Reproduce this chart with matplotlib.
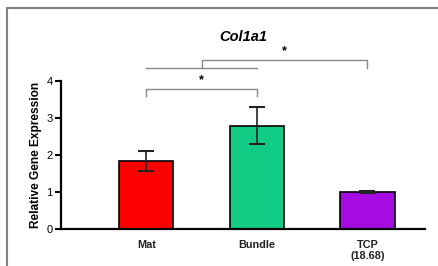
import numpy as np
import matplotlib.pyplot as plt
from matplotlib.lines import Line2D

# data
groups = ["Mat", "Bundle", "TCP\n(18.68)"]
means = [1.84, 2.79, 1.00]
errs = [0.27, 0.50, 0.02]
colors = ["#FF0000", "#12CC86", "#A60CE2"]

plt.rcParams['font.family'] = ['Liberation Sans', 'DejaVu Sans']

fig = plt.figure(figsize=(4.39, 2.66), dpi=100)
ax = fig.add_axes([61/439, 1 - 228.7/266, (425-61)/439, 147.4/266])

x = np.arange(len(groups))
ax.bar(x, means, width=0.49, color=colors, edgecolor="black", linewidth=1.2, zorder=2)
ax.errorbar(x, means, yerr=errs, fmt="none", ecolor="#222222", elinewidth=1.2,
            capsize=6, capthick=1.5, zorder=3)

ax.set_xlim(-0.77, 2.52)
ax.set_ylim(0, 4)
ax.set_yticks([0, 1, 2, 3, 4])
ax.set_xticks(x)
ax.set_xticklabels(groups, fontsize=7.8, fontweight="bold", color="#222222", linespacing=1.2)
ax.tick_params(axis="x", length=0, pad=8)
ax.tick_params(axis="y", length=4, width=1.5, labelsize=8, pad=2)
for s in ["top", "right"]:
    ax.spines[s].set_visible(False)
for s in ["left", "bottom"]:
    ax.spines[s].set_linewidth(1.6)
ax.set_ylabel("Relative Gene Expression", fontsize=8.6, fontweight="bold", labelpad=3)
ax.set_title("Col1a1", fontsize=10.5, fontweight="bold", style="italic", pad=29)

# significance brackets
bc = "#888888"
ax.plot([0, 0, 1, 1], [3.59, 3.80, 3.80, 3.59], color=bc, lw=1, clip_on=False)
ax.text(0.5, 3.86, "*", ha="center", va="bottom", fontsize=9, fontweight="bold", clip_on=False)
ax.plot([0, 1], [4.35, 4.35], color=bc, lw=1, clip_on=False)
ax.plot([0.5, 0.5, 2, 2], [4.35, 4.58, 4.58, 4.35], color=bc, lw=1, clip_on=False)
ax.text(1.25, 4.65, "*", ha="center", va="bottom", fontsize=9, fontweight="bold", clip_on=False)

# frame lines at top and left
fig.add_artist(Line2D([7/439, 1.05], [1 - 8/266, 1 - 8/266], color="#808080", lw=1.5))
fig.add_artist(Line2D([7/439, 7/439], [-0.05, 1 - 8/266], color="#808080", lw=1.5))

fig.savefig("out.png", dpi=100)
